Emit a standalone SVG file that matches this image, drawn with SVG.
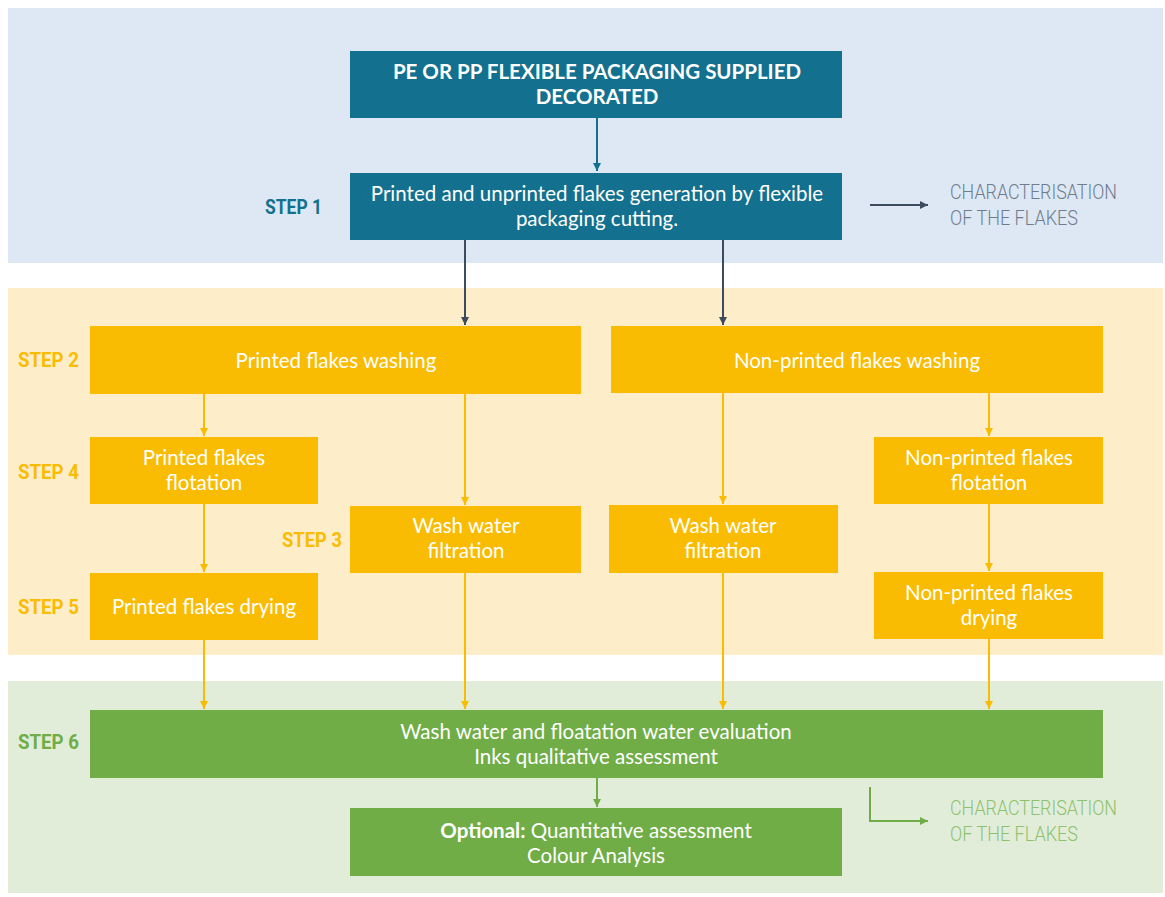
<svg xmlns="http://www.w3.org/2000/svg" width="1165" height="897" viewBox="0 0 1165 897">
<style>
.bx{font-family:Lato,"Open Sans",sans-serif;font-size:20.5px;fill:#ffffff;text-anchor:middle}
.st{font-family:Roboto,"Liberation Sans",sans-serif;font-weight:bold;font-size:20px}
.ch{font-family:Roboto,"Liberation Sans",sans-serif;font-weight:300;font-size:20px}
.teal{fill:#13708e}.yel{fill:#f9bc02}.grn{fill:#70ad47}
</style>
<defs>
<marker id="ad" markerWidth="10" markerHeight="10" refX="9" refY="5" orient="auto" markerUnits="userSpaceOnUse" viewBox="0 0 10 10"><path d="M1,1 L9,5 L1,9 Z" fill="#3d4b5f"/></marker>
<marker id="at" markerWidth="10" markerHeight="10" refX="9" refY="5" orient="auto" markerUnits="userSpaceOnUse" viewBox="0 0 10 10"><path d="M1,1 L9,5 L1,9 Z" fill="#13708e"/></marker>
<marker id="ag" markerWidth="10" markerHeight="10" refX="9" refY="5" orient="auto" markerUnits="userSpaceOnUse" viewBox="0 0 10 10"><path d="M1,1 L9,5 L1,9 Z" fill="#70ad47"/></marker>
<marker id="ayy" markerWidth="10" markerHeight="10" refX="9" refY="5" orient="auto" markerUnits="userSpaceOnUse" viewBox="0 0 10 10"><path d="M1,1 L9,5 L1,9 Z" fill="#f9bc02"/></marker>
</defs>
<rect width="1165" height="897" fill="#ffffff"/>
<g id="bands">
<rect x="8" y="8" width="1155" height="255" fill="#dde8f4"/>
<rect x="8" y="288" width="1155" height="367" fill="#fdeec9"/>
<rect x="8" y="681" width="1155" height="212" fill="#e2edd9"/>
</g>
<g id="labels">
<text class="st" x="265" y="214" fill="#13708e" textLength="57" lengthAdjust="spacingAndGlyphs">STEP 1</text>
<text class="st" x="18" y="367" fill="#f9bc02" textLength="61" lengthAdjust="spacingAndGlyphs">STEP 2</text>
<text class="st" x="18" y="479" fill="#f9bc02" textLength="61" lengthAdjust="spacingAndGlyphs">STEP 4</text>
<text class="st" x="282" y="547" fill="#f9bc02" textLength="60" lengthAdjust="spacingAndGlyphs">STEP 3</text>
<text class="st" x="18" y="614" fill="#f9bc02" textLength="61" lengthAdjust="spacingAndGlyphs">STEP 5</text>
<text class="st" x="18" y="749" fill="#70ad47" textLength="61" lengthAdjust="spacingAndGlyphs">STEP 6</text>
</g>
<g id="n-top"><rect class="teal" x="350" y="51" width="492" height="67"/>
<text class="bx" x="597" y="79" font-weight="bold" font-size="18.5">PE OR PP FLEXIBLE PACKAGING SUPPLIED</text>
<text class="bx" x="597" y="104" font-weight="bold" font-size="18.5">DECORATED</text></g>
<g id="n-step1"><rect class="teal" x="350" y="173" width="492" height="67"/>
<text class="bx" x="597" y="201">Printed and unprinted flakes generation by flexible</text>
<text class="bx" x="597" y="226">packaging cutting.</text></g>
<g id="n-char1">
<text class="ch" x="950" y="199" fill="#6e7d8e" textLength="167" lengthAdjust="spacingAndGlyphs">CHARACTERISATION</text>
<text class="ch" x="950" y="225" fill="#6e7d8e" textLength="128" lengthAdjust="spacingAndGlyphs">OF THE FLAKES</text></g>
<g id="n-pwash"><rect class="yel" x="90" y="326" width="491" height="68"/>
<text class="bx" x="336" y="368">Printed flakes washing</text></g>
<g id="n-npwash"><rect class="yel" x="611" y="326" width="492" height="67"/>
<text class="bx" x="857" y="368">Non-printed flakes washing</text></g>
<g id="n-pflot"><rect class="yel" x="90" y="437" width="228" height="67"/>
<text class="bx" x="204" y="465">Printed flakes</text>
<text class="bx" x="204" y="490">flotation</text></g>
<g id="n-wwf1"><rect class="yel" x="350" y="506" width="231" height="67"/>
<text class="bx" x="466" y="533">Wash water</text>
<text class="bx" x="466" y="558">filtration</text></g>
<g id="n-pdry"><rect class="yel" x="90" y="573" width="228" height="67"/>
<text class="bx" x="204" y="614">Printed flakes drying</text></g>
<g id="n-wwf2"><rect class="yel" x="609" y="505" width="229" height="68"/>
<text class="bx" x="723" y="533">Wash water</text>
<text class="bx" x="723" y="558">filtration</text></g>
<g id="n-npflot"><rect class="yel" x="874" y="437" width="229" height="67"/>
<text class="bx" x="989" y="465">Non-printed flakes</text>
<text class="bx" x="989" y="490">flotation</text></g>
<g id="n-npdry"><rect class="yel" x="874" y="572" width="229" height="67"/>
<text class="bx" x="989" y="600">Non-printed flakes</text>
<text class="bx" x="989" y="625">drying</text></g>
<g id="n-step6"><rect class="grn" x="90" y="710" width="1013" height="68"/>
<text class="bx" x="596" y="739">Wash water and floatation water evaluation</text>
<text class="bx" x="596" y="764">Inks qualitative assessment</text></g>
<g id="n-opt"><rect class="grn" x="350" y="808" width="492" height="68"/>
<text class="bx" x="596" y="838"><tspan font-weight="bold">Optional:</tspan> Quantitative assessment</text>
<text class="bx" x="596" y="863">Colour Analysis</text></g>
<g id="n-char2">
<text class="ch" x="950" y="815" fill="#8dc26f" textLength="167" lengthAdjust="spacingAndGlyphs">CHARACTERISATION</text>
<text class="ch" x="950" y="841" fill="#8dc26f" textLength="128" lengthAdjust="spacingAndGlyphs">OF THE FLAKES</text></g>
<g id="connectors" fill="none" stroke-width="2">
<path d="M597,118 V171" stroke="#13708e" marker-end="url(#at)"/>
<path d="M870,205 H928" stroke="#3d4b5f" marker-end="url(#ad)"/>
<path d="M465,240 V325" stroke="#3d4b5f" marker-end="url(#ad)"/>
<path d="M723,240 V325" stroke="#3d4b5f" marker-end="url(#ad)"/>
<g stroke="#f9bc02">
<path d="M204,394 V436" marker-end="url(#ayy)"/>
<path d="M204,504 V572" marker-end="url(#ayy)"/>
<path d="M465,394 V505" marker-end="url(#ayy)"/>
<path d="M723,393 V504" marker-end="url(#ayy)"/>
<path d="M989,393 V436" marker-end="url(#ayy)"/>
<path d="M989,504 V571" marker-end="url(#ayy)"/>
<path d="M204,640 V709" marker-end="url(#ayy)"/>
<path d="M465,573 V709" marker-end="url(#ayy)"/>
<path d="M723,573 V709" marker-end="url(#ayy)"/>
<path d="M989,639 V709" marker-end="url(#ayy)"/>
</g>
<path d="M597,778 V807" stroke="#70ad47" marker-end="url(#ag)"/>
<path d="M870,787 V821 H928" stroke="#70ad47" marker-end="url(#ag)"/>
</g>
</svg>
